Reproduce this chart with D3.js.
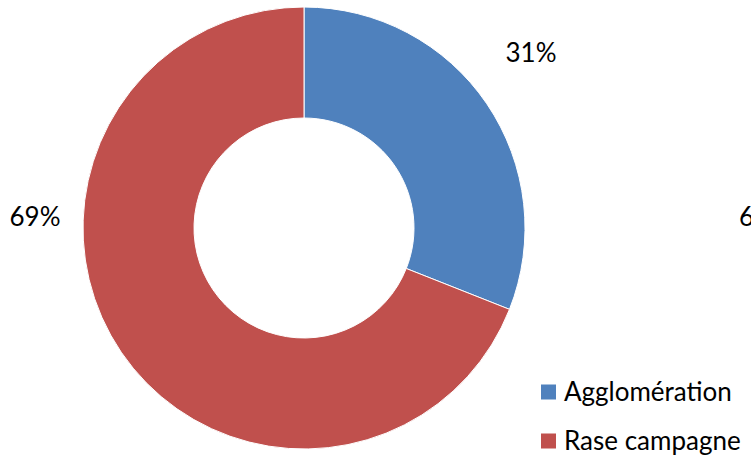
<!DOCTYPE html>
<html><head><meta charset="utf-8">
<script src="https://cdn.jsdelivr.net/npm/d3@7"></script>
<style>body{margin:0;background:#fff}svg{display:block}text{font-family:Lato,"Open Sans",sans-serif;fill:#000}</style>
</head><body>
<svg id="c" width="751" height="458"></svg>
<script>
const categories = ["Agglomération", "Rase campagne"];
const values = [31, 69];
const pctLabels = ["31%", "69%"];
const colors = ["#4F81BD", "#C0504D"];

const svg = d3.select("#c");
const cx = 304, cy = 228, outerR = 221, innerR = 110;
const pie = d3.pie().sort(null).value(d => d)(values);
const arc = d3.arc().innerRadius(innerR).outerRadius(outerR);
const g = svg.append("g").attr("transform", `translate(${cx},${cy})`);
g.selectAll("path").data(pie).join("path")
  .attr("d", arc).attr("fill", (d, i) => colors[i])
  .attr("stroke", "#fff").attr("stroke-width", 1);

const fs = 26;
// percentage labels
const labelPos = [[531, 62], [35, 226]];
svg.selectAll("text.pct").data(pctLabels).join("text").attr("class", "pct")
  .attr("x", (d, i) => labelPos[i][0]).attr("y", (d, i) => labelPos[i][1])
  .attr("text-anchor", "middle").attr("font-size", fs).text(d => d);
// partially visible label of neighbouring chart
svg.append("text").attr("x", 739).attr("y", 226).attr("font-size", fs).text("69%");

// legend
const leg = svg.append("g");
const ly = [392, 441];
categories.forEach((c, i) => {
  leg.append("rect").attr("x", 541).attr("y", ly[i] - 7.5).attr("width", 15).attr("height", 15).attr("fill", colors[i]);
  leg.append("text").attr("x", 564).attr("y", ly[i] + 9).attr("font-size", fs).text(c);
});
</script>
</body></html>
